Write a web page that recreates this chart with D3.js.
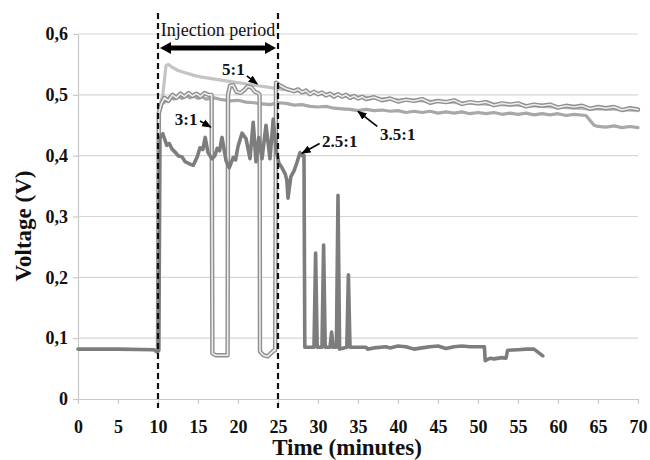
<!DOCTYPE html>
<html>
<head>
<meta charset="utf-8">
<script src="https://cdn.jsdelivr.net/npm/d3@7"></script>
<style>
  html, body { margin: 0; padding: 0; background: #fff; }
  svg { display: block; font-family: "Liberation Serif", "Times New Roman", serif; }
</style>
</head>
<body>
<svg id="chart" width="650" height="460"></svg>
<script>
// ---------- data (time in minutes, voltage in V) ----------
const xTicks = [0, 5, 10, 15, 20, 25, 30, 35, 40, 45, 50, 55, 60, 65, 70];
const yTicks = [0, 0.1, 0.2, 0.3, 0.4, 0.5, 0.6];
const injectionPeriod = [10, 25];

const series5to1 = [[10,0.08],[10.2,0.48],[10.6,0.5],[11,0.548],[11.3,0.55],[11.8,0.545],[12.5,0.54],[13.5,0.536],[14.5,0.532],[15.5,0.529],[16.5,0.527],[17.5,0.525],[18.5,0.523],[19.5,0.521],[20.5,0.519],[21.5,0.517],[22.5,0.515],[23.5,0.513],[24.5,0.511],[25.5,0.509],[27,0.507],[28,0.505],[30,0.502],[32,0.5],[34,0.498],[36,0.496],[38,0.494],[40,0.492],[43,0.49],[46,0.488],[49,0.486],[52,0.484],[55,0.483],[58,0.481],[61,0.479],[64,0.477],[67,0.476],[70,0.474]];

const series35to1 = [[10,0.08],[10.15,0.47],[10.5,0.485],[11,0.49],[11.5,0.497],[12,0.493],[12.5,0.498],[13,0.494],[13.5,0.499],[14,0.495],[14.5,0.498],[15,0.494],[15.5,0.497],[16,0.493],[17,0.495],[18,0.492],[19,0.49],[20,0.491],[21,0.488],[22,0.487],[23,0.485],[24,0.484],[25,0.487],[26,0.486],[27,0.483],[28,0.484],[29,0.481],[30,0.48],[31,0.481],[32,0.478],[33,0.477],[34,0.476],[35,0.474],[36,0.476],[37,0.474],[38,0.475],[39,0.473],[40,0.474],[41,0.471],[42,0.473],[43,0.471],[44,0.473],[45,0.47],[46,0.472],[47,0.47],[48,0.472],[49,0.469],[50,0.471],[51,0.469],[52,0.471],[53,0.468],[54,0.47],[55,0.468],[56,0.47],[57,0.467],[58,0.469],[59,0.467],[60,0.469],[61,0.466],[62,0.468],[63.5,0.466],[64,0.458],[64.5,0.45],[65,0.448],[66,0.447],[67,0.449],[68,0.446],[69,0.448],[70,0.446]];

const series3to1 = [[10,0.08],[10.1,0.47],[10.4,0.485],[10.8,0.495],[11.3,0.49],[11.8,0.5],[12.3,0.495],[12.8,0.502],[13.3,0.497],[13.8,0.503],[14.3,0.498],[14.8,0.502],[15.3,0.497],[15.8,0.503],[16.3,0.5],[16.7,0.5],[16.8,0.075],[17.2,0.072],[18.7,0.072],[18.75,0.5],[19,0.515],[19.4,0.516],[19.8,0.505],[20.3,0.503],[20.8,0.508],[21.2,0.514],[21.7,0.512],[22.1,0.505],[22.5,0.503],[22.7,0.5],[22.75,0.078],[23.2,0.072],[23.7,0.07],[24.1,0.075],[24.5,0.08],[24.65,0.08],[24.75,0.52],[25.3,0.515],[26,0.51],[27,0.506],[27.5,0.509],[28,0.504],[28.5,0.507],[29,0.501],[29.5,0.505],[30,0.501],[30.5,0.504],[31,0.499],[31.5,0.502],[32,0.497],[32.5,0.501],[33,0.497],[33.5,0.5],[34,0.495],[34.5,0.498],[35,0.494],[35.5,0.497],[36,0.493],[37,0.496],[38,0.491],[39,0.494],[40,0.489],[41,0.492],[42,0.49],[43,0.493],[44,0.487],[45,0.49],[46,0.488],[47,0.491],[48,0.485],[49,0.488],[50,0.486],[51,0.488],[52,0.483],[53,0.486],[54,0.484],[55,0.486],[56,0.481],[57,0.484],[58,0.482],[59,0.484],[60,0.479],[61,0.482],[62,0.48],[63,0.482],[64,0.477],[65,0.48],[66,0.478],[67,0.48],[68,0.475],[69,0.478],[70,0.476]];

const series25to1 = [[0,0.082],[5,0.082],[9.5,0.081],[9.9,0.077],[10.1,0.08],[10.25,0.43],[10.6,0.436],[11.1,0.417],[11.4,0.42],[11.75,0.411],[12.2,0.405],[12.5,0.4],[13,0.398],[13.4,0.39],[14,0.386],[14.4,0.384],[14.9,0.398],[15.25,0.413],[15.6,0.41],[15.9,0.43],[16.25,0.405],[16.75,0.395],[17.1,0.4],[17.4,0.412],[17.7,0.408],[18,0.43],[18.5,0.392],[18.9,0.38],[19.4,0.397],[19.7,0.393],[20,0.415],[20.5,0.437],[21,0.428],[21.5,0.395],[21.9,0.455],[22.25,0.39],[22.6,0.43],[23,0.395],[23.5,0.45],[24,0.395],[24.4,0.46],[24.75,0.41],[25.1,0.388],[25.5,0.38],[25.9,0.37],[26.1,0.36],[26.25,0.33],[26.6,0.365],[27,0.375],[27.4,0.39],[27.75,0.405],[28.1,0.4],[28.25,0.4],[28.35,0.085],[29.5,0.085],[29.7,0.24],[29.9,0.085],[30.5,0.085],[30.7,0.253],[30.9,0.085],[31.5,0.085],[31.7,0.11],[31.9,0.085],[32.3,0.085],[32.5,0.335],[32.7,0.082],[33.6,0.085],[33.8,0.204],[34,0.085],[36,0.085],[36.2,0.082],[37,0.084],[38.5,0.086],[39,0.084],[40,0.087],[41,0.086],[42,0.082],[43,0.084],[44,0.086],[45,0.087],[46,0.083],[47,0.086],[48,0.087],[49,0.086],[50.8,0.086],[50.9,0.063],[51.5,0.067],[52,0.066],[53,0.068],[53.5,0.067],[53.7,0.08],[55,0.081],[56,0.082],[57,0.082],[58.1,0.071]];

// ---------- layout ----------
const svg = d3.select("#chart");
const margin = { left: 78, right: 12, top: 34, bottom: 61 };
const W = 650, H = 460;
const x = d3.scaleLinear().domain([0, 70]).range([margin.left, W - margin.right]);
const y = d3.scaleLinear().domain([0, 0.6]).range([H - margin.bottom, margin.top]);

const fmtY = d => d === 0 ? "0" : d3.format(".1f")(d).replace(".", ",");

// gridlines
svg.append("g")
  .selectAll("line")
  .data(yTicks.filter(d => d > 0))
  .join("line")
  .attr("x1", x(0)).attr("x2", x(70))
  .attr("y1", d => y(d)).attr("y2", d => y(d))
  .attr("stroke", "#d6d6d6").attr("stroke-width", 1.2);

// axes
const xAxis = svg.append("g")
  .attr("transform", `translate(0,${y(0)})`)
  .call(d3.axisBottom(x).tickValues(xTicks).tickSize(5).tickPadding(16).tickSizeOuter(0));
const yAxis = svg.append("g")
  .attr("transform", `translate(${x(0)},0)`)
  .call(d3.axisLeft(y).tickValues(yTicks).tickFormat(fmtY).tickSize(5).tickPadding(5).tickSizeOuter(0));
[xAxis, yAxis].forEach(g => {
  g.select(".domain").attr("stroke", "#c8c8c8").attr("stroke-width", 1.2);
  g.selectAll(".tick line").attr("stroke", "#c8c8c8").attr("stroke-width", 1.2);
  g.selectAll("text").attr("font-family", "Liberation Serif").attr("font-size", 18)
    .attr("font-weight", "bold").attr("fill", "#111");
});

// lines
const line = d3.line().x(d => x(d[0])).y(d => y(d[1]));
const plot = svg.append("g").attr("stroke-linejoin", "round").attr("stroke-linecap", "round").attr("fill", "none");

plot.append("path").datum(series5to1).attr("d", line)
  .attr("stroke", "#c4c4c4").attr("stroke-width", 3.2);
plot.append("path").datum(series35to1).attr("d", line)
  .attr("stroke", "#a8a8a8").attr("stroke-width", 3.2);
plot.append("path").datum(series3to1).attr("d", line)
  .attr("stroke", "#8f8f8f").attr("stroke-width", 4.4);
plot.append("path").datum(series3to1).attr("d", line)
  .attr("stroke", "#ececec").attr("stroke-width", 1.6);
plot.append("path").datum(series25to1).attr("d", line)
  .attr("stroke", "#7d7d7d").attr("stroke-width", 3.6);

// injection period dashed lines
svg.append("g").selectAll("line")
  .data(injectionPeriod)
  .join("line")
  .attr("x1", d => x(d)).attr("x2", d => x(d))
  .attr("y1", 13).attr("y2", 408)
  .attr("stroke", "#111").attr("stroke-width", 2.2)
  .attr("stroke-dasharray", "6,4");

// double arrow
const ax1 = x(injectionPeriod[0]) + 2, ax2 = x(injectionPeriod[1]) - 2, ay = 48;
svg.append("line")
  .attr("x1", ax1 + 8).attr("x2", ax2 - 8).attr("y1", ay).attr("y2", ay)
  .attr("stroke", "#000").attr("stroke-width", 5);
svg.append("path")
  .attr("d", `M${ax1},${ay} L${ax1 + 11},${ay - 6} L${ax1 + 11},${ay + 6} Z M${ax2},${ay} L${ax2 - 11},${ay - 6} L${ax2 - 11},${ay + 6} Z`)
  .attr("fill", "#000");
svg.append("text")
  .attr("x", (x(injectionPeriod[0]) + x(injectionPeriod[1])) / 2).attr("y", 36)
  .attr("text-anchor", "middle").attr("font-size", 18).attr("fill", "#111")
  .text("Injection period");

// series labels with arrows
const defs = svg.append("defs");
defs.append("marker").attr("id", "ah").attr("viewBox", "0 0 10 10")
  .attr("refX", 9).attr("refY", 5).attr("markerWidth", 6).attr("markerHeight", 6)
  .attr("orient", "auto-start-reverse")
  .append("path").attr("d", "M0,1 L10,5 L0,9 Z").attr("fill", "#000");

const labels = [
  { text: "5:1",   tx: 18.0, tv: 0.533, from: [21.1, 0.531], to: [22.4, 0.518] },
  { text: "3:1",   tx: 12.1, tv: 0.450, from: [15.25, 0.457], to: [16.6, 0.447] },
  { text: "2.5:1", tx: 30.5, tv: 0.414, from: [30.2, 0.420], to: [28.0, 0.404] },
  { text: "3.5:1", tx: 37.75, tv: 0.426, from: [37.4, 0.448], to: [35.0, 0.473] }
];
const lg = svg.append("g");
labels.forEach(l => {
  lg.append("text").attr("x", x(l.tx)).attr("y", y(l.tv))
    .attr("font-size", 17).attr("font-weight", "bold").attr("fill", "#111").text(l.text);
  lg.append("line")
    .attr("x1", x(l.from[0])).attr("y1", y(l.from[1]))
    .attr("x2", x(l.to[0])).attr("y2", y(l.to[1]))
    .attr("stroke", "#000").attr("stroke-width", 1.6).attr("marker-end", "url(#ah)");
});

// axis titles
svg.append("text")
  .attr("x", 347).attr("y", 455).attr("text-anchor", "middle")
  .attr("font-size", 23).attr("font-weight", "bold").attr("fill", "#111")
  .text("Time (minutes)");
svg.append("text")
  .attr("transform", "translate(31,226) rotate(-90)").attr("text-anchor", "middle")
  .attr("font-size", 23).attr("font-weight", "bold").attr("fill", "#111")
  .text("Voltage (V)");
</script>
</body>
</html>
